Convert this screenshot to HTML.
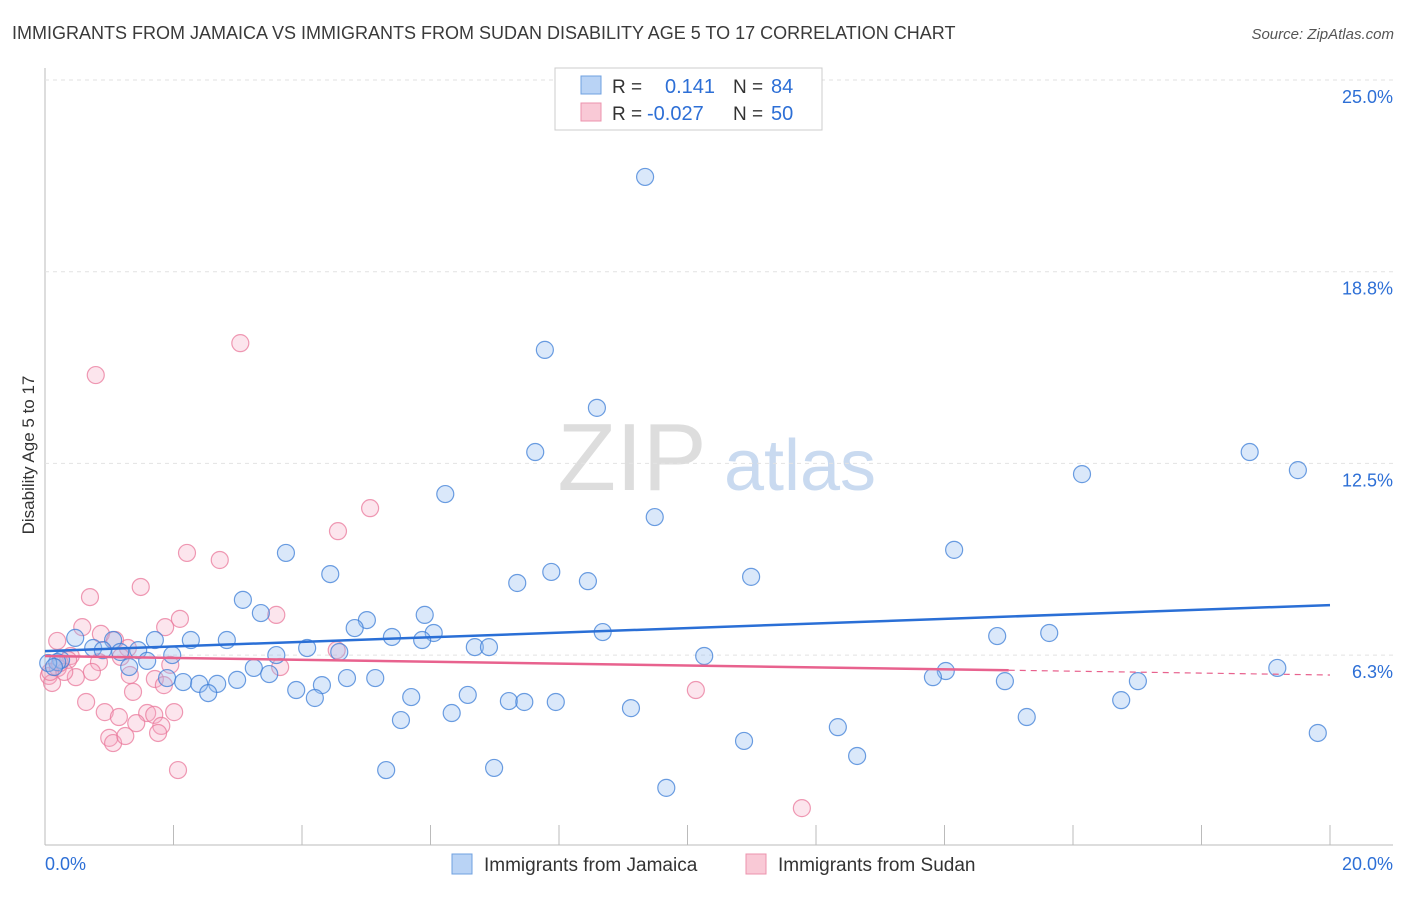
<!DOCTYPE html>
<html><head><meta charset="utf-8"><style>
body{margin:0;background:#fff;font-family:"Liberation Sans",sans-serif}
svg text{font-family:"Liberation Sans",sans-serif}
</style></head><body>
<svg id="c" width="1406" height="892">
<text x="12" y="39" font-size="18" fill="#3a3a3a">IMMIGRANTS FROM JAMAICA VS IMMIGRANTS FROM SUDAN DISABILITY AGE 5 TO 17 CORRELATION CHART</text>
<text x="1394" y="39" font-size="15" fill="#555" font-style="italic" text-anchor="end">Source: ZipAtlas.com</text>
<text x="34" y="455" font-size="17" fill="#333" text-anchor="middle" transform="rotate(-90 34 455)">Disability Age 5 to 17</text>
<g><text x="632" y="490" font-size="96" fill="#ddd" font-family="Liberation Serif" text-anchor="middle">ZIP</text><text x="800" y="490" font-size="72" fill="#c9daf0" text-anchor="middle">atlas</text></g>
<g id="grid"></g><g id="pts"></g><g id="lines"></g>
<g>
<rect x="555" y="68" width="267" height="62" fill="#fff" stroke="#ccc"/>
<rect x="581" y="76" width="20" height="18" fill="#b9d3f5" stroke="#6fa0e0"/>
<rect x="581" y="103" width="20" height="18" fill="#f9c9d6" stroke="#ec93ad"/>
<text x="612" y="93" font-size="19" fill="#333">R = </text><text x="665" y="93" font-size="20" fill="#2d6fd6">0.141</text>
<text x="733" y="93" font-size="19" fill="#333">N = </text><text x="771" y="93" font-size="20" fill="#2d6fd6">84</text>
<text x="612" y="120" font-size="19" fill="#333">R = </text><text x="647" y="120" font-size="20" fill="#2d6fd6">-0.027</text>
<text x="733" y="120" font-size="19" fill="#333">N = </text><text x="771" y="120" font-size="20" fill="#2d6fd6">50</text>
</g>
<g>
<rect x="452" y="854" width="20" height="20" fill="#b9d3f5" stroke="#6fa0e0"/>
<text x="484" y="871" font-size="19" fill="#333">Immigrants from Jamaica</text>
<rect x="746" y="854" width="20" height="20" fill="#f9c9d6" stroke="#ec93ad"/>
<text x="778" y="871" font-size="19" fill="#333">Immigrants from Sudan</text>
</g>
</svg>
<script>
const xTicks=[0,2,4,6,8,10,12,14,16,18,20];
const yTicks=[6.25,12.5,18.75,25];
const yTickLabels=["6.3%","12.5%","18.8%","25.0%"];
const jamX=[9.34,7.78,8.59,7.63,6.23,9.49,18.75,19.50,16.14,14.15,3.75,4.44,7.88,7.35,8.45,10.99,3.08,3.36,5.01,5.91,4.82,6.05,5.40,5.87,8.68,14.82,15.63,0.47,1.06,1.71,2.27,2.83,1.45,0.75,0.90,1.17,1.98,1.59,1.31,0.25,0.19,0.05,0.14,4.08,4.58,3.60,6.69,6.91,10.26,19.18,14.02,13.82,14.94,17.01,1.90,2.15,2.40,2.68,2.99,3.25,3.49,4.31,4.70,5.14,3.91,4.20,2.54,5.70,6.58,7.22,7.46,7.95,9.12,6.33,5.54,15.28,16.75,12.34,10.88,19.81,12.64,5.31,6.99,9.67];
const jamY=[21.84,16.20,14.31,12.87,11.50,10.75,12.87,12.28,12.15,9.68,9.58,8.89,8.96,8.60,8.66,8.80,8.05,7.62,7.39,7.56,7.13,6.97,6.84,6.74,7.00,6.87,6.97,6.81,6.74,6.74,6.74,6.74,6.41,6.48,6.41,6.35,6.25,6.06,5.86,6.09,6.02,5.99,5.86,6.48,6.35,6.25,6.51,6.51,6.22,5.83,5.73,5.53,5.40,5.40,5.50,5.37,5.31,5.31,5.44,5.83,5.63,5.27,5.50,5.50,5.11,4.85,5.01,4.88,4.95,4.75,4.72,4.72,4.52,4.36,4.13,4.23,4.78,3.90,3.45,3.71,2.96,2.50,2.57,1.92];
const sudX=[3.04,0.79,5.06,4.56,2.21,2.72,1.49,0.70,2.10,3.60,1.87,0.58,0.19,0.87,1.09,1.29,0.40,0.36,0.84,1.18,4.54,3.66,1.95,0.73,0.48,0.06,0.11,1.32,1.71,1.85,1.37,0.64,0.93,1.15,1.59,1.70,2.01,1.42,1.81,1.00,1.06,1.25,1.76,2.07,10.13,11.78,0.20,0.30,0.23,0.08];
const sudY=[16.42,15.38,11.04,10.29,9.58,9.35,8.47,8.14,7.43,7.56,7.16,7.16,6.71,6.94,6.74,6.48,6.22,6.09,6.02,6.19,6.41,5.86,5.93,5.70,5.53,5.57,5.34,5.60,5.47,5.27,5.05,4.72,4.39,4.23,4.36,4.30,4.39,4.03,3.94,3.55,3.38,3.61,3.71,2.50,5.11,1.26,5.83,5.70,5.99,5.70];
const jamTrend=[6.38,7.88];
const sudTrend=[6.22,5.60];
const X=v=>45+v*64.25, Y=v=>80+(25-v)*30.67;
const NS='http://www.w3.org/2000/svg';
function mk(p,t,a){const e=document.createElementNS(NS,t);for(const k in a)e.setAttribute(k,a[k]);p.appendChild(e);return e;}
const g=document.getElementById('grid');
let ax=mk(g,'line',{x1:45,y1:68,x2:45,y2:845,stroke:'#bbb'});


let bx=mk(g,'line',{x1:45,y1:845,x2:1393,y2:845,stroke:'#bbb'});


yTicks.forEach((v,i)=>{
 const l=mk(g,'line',{x1:45,y1:Y(v),x2:1393,y2:Y(v),stroke:'#e2e2e2','stroke-dasharray':'4,4'});
 
 
 const t=mk(g,'text',{x:1393,y:Y(v)+23,'font-size':18,fill:'#2d6fd6','text-anchor':'end'});
 t.textContent=yTickLabels[i];
 
 
});
xTicks.forEach(v=>{
 const l=mk(g,'line',{x1:X(v),y1:825,x2:X(v),y2:845,stroke:'#bbb'});
 
 
});
[[0,'0.0%','start',45],[20,'20.0%','end',1393]].forEach(a=>{
 const t=mk(g,'text',{x:a[3],y:870,'font-size':18,fill:'#2d6fd6','text-anchor':a[2]});
 t.textContent=a[1];
 
 
});
const P=document.getElementById('pts');
sudX.forEach((v,i)=>{
 const c=mk(P,'circle',{cx:X(v),cy:Y(sudY[i]),r:8.5,fill:'rgba(246,170,195,0.3)',stroke:'rgba(233,120,155,0.75)','stroke-width':1.2});
 
 
});
jamX.forEach((v,i)=>{
 const c=mk(P,'circle',{cx:X(v),cy:Y(jamY[i]),r:8.5,fill:'rgba(150,190,240,0.35)',stroke:'rgba(60,125,215,0.75)','stroke-width':1.2});
 
 
});
const L=document.getElementById('lines');
let jl=mk(L,'line',{x1:X(0),y1:Y(jamTrend[0]),x2:X(20),y2:Y(jamTrend[1]),stroke:'#2a6fd6','stroke-width':2.5});


const sAt=x=>sudTrend[0]+(sudTrend[1]-sudTrend[0])*x/20;
let sl=mk(L,'line',{x1:X(0),y1:Y(sAt(0)),x2:X(15),y2:Y(sAt(15)),stroke:'#e8628e','stroke-width':2.5});


let sd=mk(L,'line',{x1:X(15),y1:Y(sAt(15)),x2:X(20),y2:Y(sAt(20)),stroke:'#e8628e','stroke-width':1.2,'stroke-dasharray':'6,5'});


</script>
</body></html>
